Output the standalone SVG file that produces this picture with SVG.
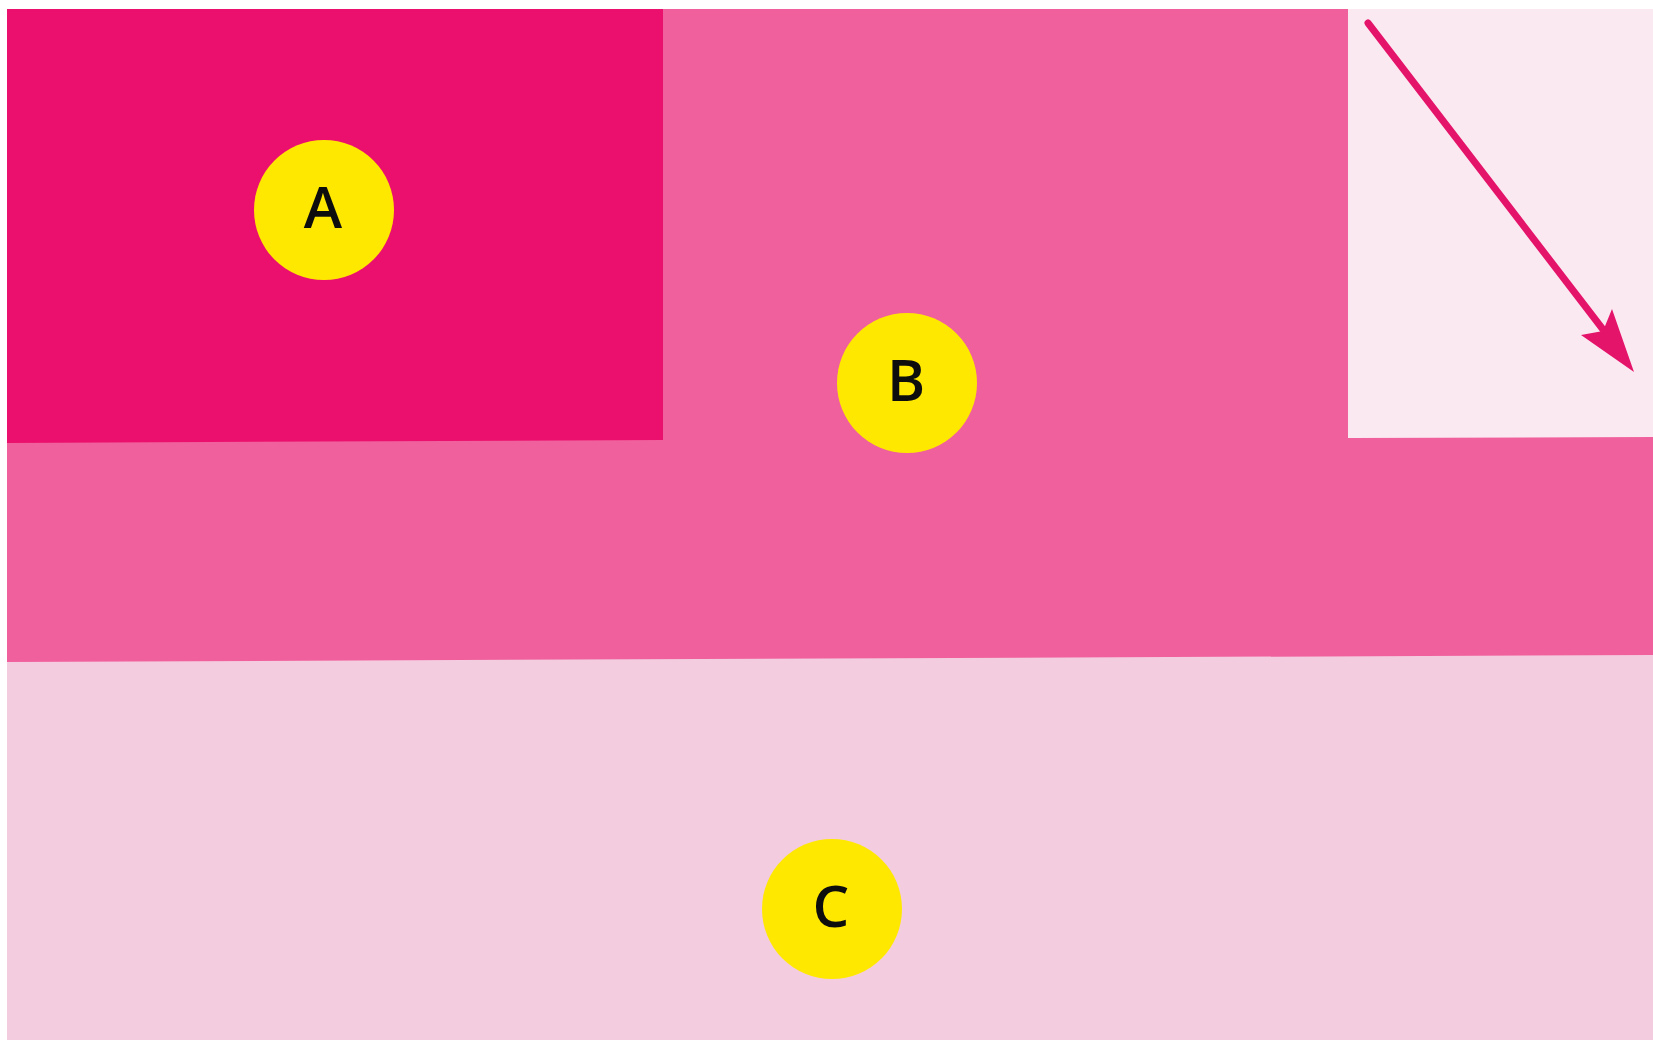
<svg xmlns="http://www.w3.org/2000/svg" width="1653" height="1040" viewBox="0 0 1653 1040">
  <style>
    .badge { fill: #FFE800; }
    .lbl { font-family: "Open Sans", "Noto Sans", "Liberation Sans", sans-serif; font-size: 58px; font-weight: 600; fill: #0d0d0d; text-anchor: middle; dominant-baseline: central; }
    .conn { stroke: #E5146B; stroke-width: 7; stroke-linecap: round; fill: none; }
    .head { fill: #E5146B; }
  </style>
  <rect x="0" y="0" width="1653" height="1040" fill="#ffffff"/>
  <g id="zone-c">
    <polygon points="7,655 1653,650 1653,1040 7,1040" fill="#F4CCE0"/>
  </g>
  <g id="zone-b">
    <polygon points="7,9 1653,9 1653,655 7,662" fill="#F0609C"/>
  </g>
  <g id="zone-a">
    <polygon points="7,9 663,9 663,440 7,443" fill="#EC106E"/>
  </g>
  <g id="zone-corner">
    <polygon points="1348,9 1653,9 1653,437 1348,438" fill="#FBE9F1"/>
  </g>
  <g id="connectors">
    <line class="conn" x1="1368" y1="23" x2="1608" y2="336"/>
    <polygon class="head" points="1634,372 1581,335 1603,331 1612,309"/>
  </g>
  <g id="node-a">
    <circle class="badge" cx="324" cy="210" r="70"/>
    <text class="lbl" x="323" y="205">A</text>
  </g>
  <g id="node-b">
    <circle class="badge" cx="907" cy="383" r="70"/>
    <text class="lbl" x="906" y="378">B</text>
  </g>
  <g id="node-c">
    <circle class="badge" cx="832" cy="909" r="70"/>
    <text class="lbl" x="831" y="904">C</text>
  </g>
</svg>
